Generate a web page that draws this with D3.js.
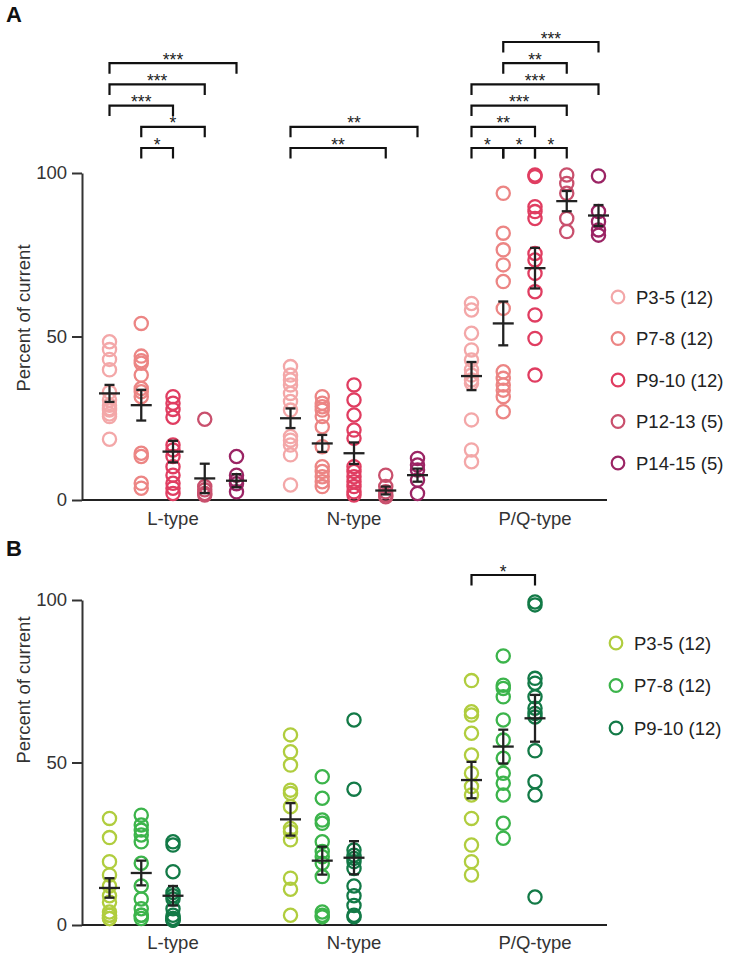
<!DOCTYPE html>
<html><head><meta charset="utf-8">
<script src="https://cdn.jsdelivr.net/npm/d3@7"></script>
<style>body{margin:0;background:#fff} text{font-family:"Liberation Sans",Arial,Helvetica,sans-serif}</style>
</head><body><svg id="c" width="729" height="960"></svg>
<script>
// ---------- data ----------
const groups = ["L-type", "N-type", "P/Q-type"];
const agesA = ["P3-5 (12)", "P7-8 (12)", "P9-10 (12)", "P12-13 (5)", "P14-15 (5)"];
const agesB = ["P3-5 (12)", "P7-8 (12)", "P9-10 (12)"];
const colorsA = ["#f3a7a8", "#ec8584", "#e03d61", "#c9506d", "#9b2464"];
const colorsB = ["#b0cd3e", "#3cb44b", "#137a47"];
const yTicks = [0, 50, 100];

// Panel A values (percent of current), one array per age group
const A_L = [
  [48.4, 46, 43, 39.8, 33, 30.6, 29, 27.5, 26.3, 25.5, 28, 18.6],
  [54, 44, 42.6, 41.8, 38.2, 34.1, 33.1, 31.6, 14.3, 13.3, 5.1, 3.6],
  [31.6, 29.6, 27.7, 25.3, 16.8, 15.3, 13.3, 10.2, 7.6, 5.1, 3.6, 2],
  [24.7, 4.1, 3.1, 2, 1.5],
  [13.3, 7.6, 6, 5, 2.5]
];
const A_N = [
  [40.8, 38.2, 36.7, 35.2, 32.6, 30.1, 27.5, 19.4, 18.3, 16.8, 13.8, 4.6],
  [31.6, 29.6, 28.5, 27.5, 25.5, 22.4, 16.3, 10.2, 8.7, 7.1, 5.6, 4.1],
  [35.2, 30.6, 26, 21.4, 18.9, 10.2, 8.7, 7.1, 5.6, 4.1, 2.5, 1.5],
  [7.6, 4.1, 2.5, 1.5, 1],
  [12.7, 10.7, 9.2, 6.1, 2]
];
const A_PQ = [
  [60.1, 58.1, 51, 45.9, 42.8, 39.8, 38.2, 36.7, 35.7, 24.5, 15.3, 11.7],
  [93.8, 81.6, 76.5, 71.9, 66.8, 58.6, 39.2, 37.2, 35.2, 33.6, 31.6, 27],
  [99.4, 98.9, 89.7, 88.2, 86.1, 75.4, 73.4, 69.3, 63.7, 56.6, 49.4, 38.2],
  [99.4, 96.8, 93.8, 86.1, 82.1],
  [99.1, 88.2, 85.1, 82.6, 81]
];
const A_mean = { "L-type": [32.6, 29, 14.8, 6.6, 5.9], "N-type": [25, 17.3, 14.3, 2.9, 7.6], "P/Q-type": [37.9, 54, 70.9, 91.4, 87] };
const A_sem  = { "L-type": [2.6, 4.7, 3.3, 4.5, 2], "N-type": [3, 2.6, 3.3, 1.2, 2], "P/Q-type": [4.3, 6.7, 6.2, 3.1, 3.2] };

// Panel B values
const B_L = [
  [32.8, 26.9, 19.5, 15.4, 12, 9, 7, 4, 3, 3, 2, 2],
  [33.8, 30.8, 29.2, 27.7, 25.6, 19, 12, 8, 5, 3, 3, 2],
  [25.6, 24.6, 16.4, 10, 9, 8, 5, 3, 2, 2, 1.5, 1.5]
];
const B_N = [
  [58.5, 53.3, 49.2, 41.5, 40.5, 36.4, 29.7, 28.7, 26.2, 14.4, 11, 3],
  [45.6, 39, 32.3, 31.3, 25.6, 22.6, 21, 19, 14.9, 4, 3, 2.5],
  [63.1, 41.8, 23.1, 21.5, 20.5, 19.5, 17.4, 12, 9, 6, 3, 2.5]
];
const B_PQ = [
  [75.2, 65.6, 64.6, 59, 52.3, 46.7, 42.6, 40, 32.8, 24.6, 19.5, 15.4],
  [82.8, 73.8, 72.8, 70.2, 63.1, 56.9, 51.3, 46.7, 43.6, 40, 31.3, 26.7],
  [99.4, 98.5, 75.9, 74.4, 70.2, 66.7, 65.1, 64, 53.6, 44.1, 40, 8.6]
];
const B_mean = { "L-type": [11.4, 16, 9], "N-type": [32.5, 19.8, 20.7], "P/Q-type": [44.6, 54.9, 63.6] };
const B_sem  = { "L-type": [3, 3.8, 3], "N-type": [5, 4.3, 5.1], "P/Q-type": [5.6, 5.2, 7.2] };

// significance brackets: group, from age index, to age index, stack level, label
const A_sig = [
  ["L-type", 0, 4, 4, "***"], ["L-type", 0, 3, 3, "***"], ["L-type", 0, 2, 2, "***"],
  ["L-type", 1, 3, 1, "*"], ["L-type", 1, 2, 0, "*"],
  ["N-type", 0, 4, 1, "**"], ["N-type", 0, 3, 0, "**"],
  ["P/Q-type", 1, 4, 5, "***"], ["P/Q-type", 1, 3, 4, "**"], ["P/Q-type", 0, 4, 3, "***"],
  ["P/Q-type", 0, 3, 2, "***"], ["P/Q-type", 0, 2, 1, "**"],
  ["P/Q-type", 0, 1, 0, "*"], ["P/Q-type", 1, 2, 0, "*"], ["P/Q-type", 2, 3, 0, "*"]
];
const B_sig = [["P/Q-type", 0, 2, 0, "*"]];

// ---------- drawing ----------
const svg = d3.select("#c");
const xGroup = d3.scalePoint().domain(groups).range([173, 535]);
const xAge = d3.scalePoint().domain(d3.range(5)).range([-63.5, 63.5]);
const xPos = (g, i) => xGroup(g) + xAge(i);
const ink = "#222";
const fs = 18.5;

function panel(o) {
  const y = d3.scaleLinear().domain([0, 100]).range([o.y0, o.y100]);
  const g = svg.append("g");

  // panel letter
  g.append("text").attr("x", 6).attr("y", o.letterY).text(o.letter)
    .attr("font-size", 22).attr("font-weight", "bold").attr("fill", "#111");

  // y axis
  const ax = g.append("g").attr("transform", "translate(82,0)")
    .call(d3.axisLeft(y).tickValues(yTicks).tickSize(10).tickSizeOuter(0).tickPadding(5));
  ax.select(".domain").attr("stroke", "#333").attr("stroke-width", 2);
  ax.selectAll(".tick line").attr("stroke", "#333").attr("stroke-width", 2);
  ax.selectAll(".tick text").attr("font-size", fs).attr("fill", "#333")
    .attr("font-family", '"Liberation Sans",Arial,sans-serif');

  g.append("text").attr("transform", `translate(30,${o.labelY}) rotate(-90)`)
    .attr("text-anchor", "middle").attr("font-size", fs).attr("fill", "#333").text("Percent of current");

  // x baseline
  g.append("line").attr("x1", 82).attr("x2", 607).attr("y1", y(0)).attr("y2", y(0))
    .attr("stroke", "#222").attr("stroke-width", 2.2);
  g.selectAll(".glab").data(groups).join("text")
    .attr("x", d => xGroup(d)).attr("y", y(0) + o.glabDy).attr("text-anchor", "middle")
    .attr("font-size", fs).attr("fill", "#333").text(d => d);

  // points
  groups.forEach(gr => {
    o.data[gr].forEach((vals, i) => {
      g.selectAll(null).data(vals).join("circle")
        .attr("cx", xPos(gr, i)).attr("cy", d => y(d)).attr("r", 6.6)
        .attr("fill", "none").attr("stroke", o.colors[i]).attr("stroke-width", 2.3);
    });
  });

  // mean +- sem
  groups.forEach(gr => {
    o.mean[gr].forEach((m, i) => {
      const cx = xPos(gr, i), s = o.sem[gr][i];
      const e = g.append("g").attr("stroke", ink).attr("stroke-width", 2.3);
      e.append("line").attr("x1", cx - 10.5).attr("x2", cx + 10.5).attr("y1", y(m)).attr("y2", y(m));
      e.append("line").attr("x1", cx).attr("x2", cx).attr("y1", y(m + s)).attr("y2", y(m - s));
      e.append("line").attr("x1", cx - 5).attr("x2", cx + 5).attr("y1", y(m + s)).attr("y2", y(m + s));
      e.append("line").attr("x1", cx - 5).attr("x2", cx + 5).attr("y1", y(m - s)).attr("y2", y(m - s));
    });
  });

  // legend
  const lg = g.selectAll(".lg").data(o.ages).join("g")
    .attr("transform", (d, i) => `translate(${o.legX},${o.legY + i * o.legStep})`);
  lg.append("circle").attr("r", 6.3).attr("fill", "none").attr("stroke-width", 2.2)
    .attr("stroke", (d, i) => o.colors[i]);
  lg.append("text").attr("x", 18).attr("y", 6.6).attr("font-size", fs).attr("fill", "#222").text(d => d);

  // significance brackets
  o.sig.forEach(([gr, a, b, lvl, lab]) => {
    const x1 = xPos(gr, a), x2 = xPos(gr, b), yy = o.sigBase - lvl * 21.2;
    g.append("path").attr("d", `M${x1},${yy + 10.5}V${yy}H${x2}V${yy + 10.5}`)
      .attr("fill", "none").attr("stroke", "#111").attr("stroke-width", 2.2);
    g.append("text").attr("x", (x1 + x2) / 2).attr("y", yy + 2.5).attr("text-anchor", "middle")
      .attr("font-size", 17.5).attr("fill", "#222").text(lab);
  });
}

panel({ letter: "A", letterY: 22, y0: 500, y100: 173, labelY: 318, glabDy: 25,
  data: { "L-type": A_L, "N-type": A_N, "P/Q-type": A_PQ }, mean: A_mean, sem: A_sem,
  colors: colorsA, ages: agesA, legX: 618, legY: 297, legStep: 41.5, sig: A_sig, sigBase: 148 });

panel({ letter: "B", letterY: 556, y0: 925, y100: 600, labelY: 690, glabDy: 24,
  data: { "L-type": B_L, "N-type": B_N, "P/Q-type": B_PQ }, mean: B_mean, sem: B_sem,
  colors: colorsB, ages: agesB, legX: 616, legY: 643, legStep: 42.5, sig: B_sig, sigBase: 575 });
</script></body></html>
